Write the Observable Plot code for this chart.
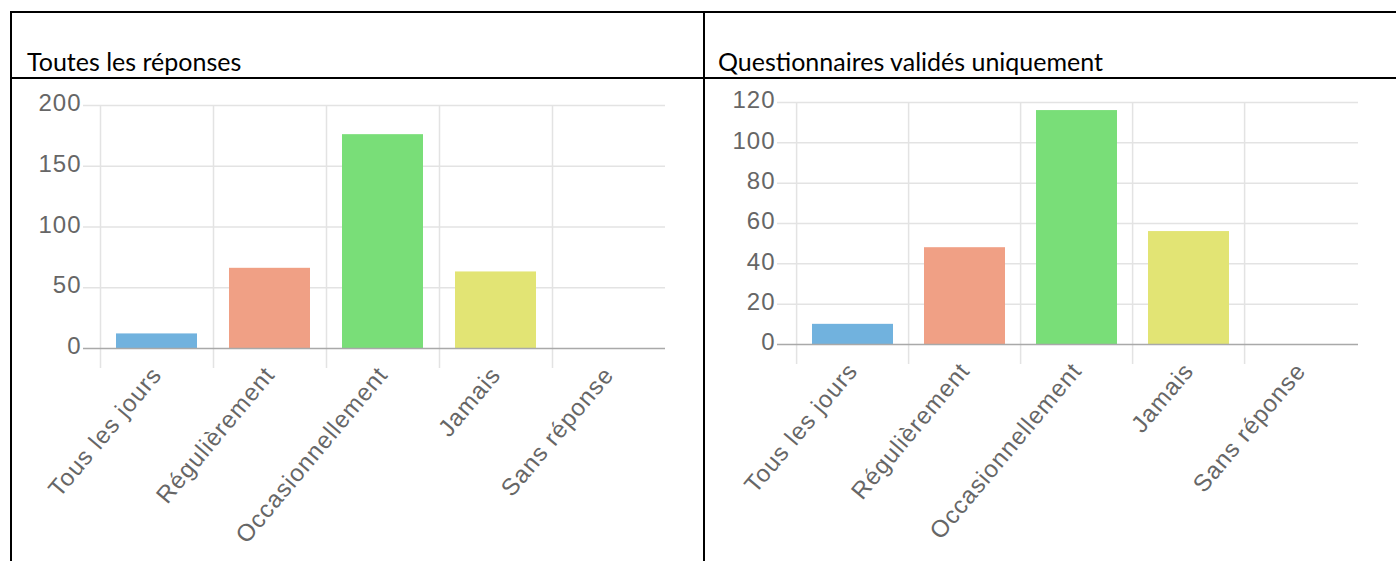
<!DOCTYPE html>
<html>
<head>
<meta charset="utf-8">
<script src="https://cdn.jsdelivr.net/npm/d3@7"></script>
<script src="https://cdn.jsdelivr.net/npm/@observablehq/plot@0.6"></script>
<style>
  html, body { margin: 0; padding: 0; background: #fff; }
  #wrap { position: relative; width: 1396px; height: 561px; overflow: hidden; background: #fff; }
  .line { position: absolute; background: #000; z-index: 3; }
  .title { position: absolute; font-family: Lato, "Open Sans", sans-serif; font-size: 25px; line-height: 25px; color: #000; white-space: nowrap; z-index: 2; }
  .chart { position: absolute; z-index: 1; }
  .chart svg { display: block; }
</style>
</head>
<body>
<div id="wrap">
  <div class="line" style="left:10px; top:11px; width:1386px; height:2px;"></div>
  <div class="line" style="left:10px; top:77px; width:1386px; height:2px;"></div>
  <div class="line" style="left:10px; top:11px; width:2px; height:550px;"></div>
  <div class="line" style="left:703px; top:11px; width:2px; height:550px;"></div>
  <div class="title" id="t1" style="left:27px; top:49px;"></div>
  <div class="title" id="t2" style="left:718px; top:49px;"></div>
  <div class="chart" id="c1" style="left:10px; top:78px;"></div>
  <div class="chart" id="c2" style="left:704px; top:78px;"></div>
</div>
<script>
// ---- data ----
const categories = ["Tous les jours", "Régulièrement", "Occasionnellement", "Jamais", "Sans réponse"];
const toutesValues = [12, 66, 176, 63, 0];
const validesValues = [10, 48, 116, 56, 0];
const toutesTicks = [0, 50, 100, 150, 200];
const validesTicks = [0, 20, 40, 60, 80, 100, 120];
const titles = ["Toutes les réponses", "Questionnaires validés uniquement"];

function chart(values, ticks, dims) {
  const {width, height, marginTop, marginBottom, marginLeft, marginRight} = dims;
  const data = categories.map((c, i) => ({category: c, value: values[i]}));
  const step = (width - marginLeft - marginRight) / categories.length;
  return Plot.plot({
    width, height, marginTop, marginBottom, marginLeft, marginRight,
    style: {fontFamily: "'Liberation Sans', Arial, sans-serif", fontSize: "24px", letterSpacing: "1px", color: "#666", background: "transparent", overflow: "visible"},
    x: {domain: categories, paddingInner: 0.28, paddingOuter: 0.14, label: null},
    y: {domain: [0, d3.max(ticks)], label: null},
    color: {domain: categories, range: ["#71b2de", "#f0a085", "#79de78", "#e2e474", "#cccccc"]},
    marks: [
      Plot.ruleY(ticks.filter(t => t !== 0), {stroke: "#e3e3e3", strokeWidth: 1.5, insetLeft: -17}),
      Plot.ruleX(categories, {x: d => d, dx: -step / 2, stroke: "#e3e3e3", strokeWidth: 1.5, insetBottom: -20}),
      Plot.barY(data, {x: "category", y: "value", fill: "category"}),
      Plot.ruleY([0], {stroke: "#a9a9a9", strokeWidth: 1.5, insetLeft: -17}),
      Plot.axisY({ticks, tickSize: 0, tickPadding: 19, dy: -2, fill: "#666", fontSize: 24, label: null}),
      Plot.axisX({tickSize: 0, tickRotate: -50, tickPadding: 22, fill: "#666", fontSize: 24, label: null})
    ]
  });
}

document.getElementById("t1").textContent = titles[0];
document.getElementById("t2").textContent = titles[1];
document.getElementById("c1").append(chart(toutesValues, toutesTicks,
  {width: 694, height: 483, marginTop: 27, marginBottom: 213, marginLeft: 90, marginRight: 39}));
document.getElementById("c2").append(chart(validesValues, validesTicks,
  {width: 692, height: 483, marginTop: 24, marginBottom: 217, marginLeft: 90, marginRight: 38}));
</script>
</body>
</html>
